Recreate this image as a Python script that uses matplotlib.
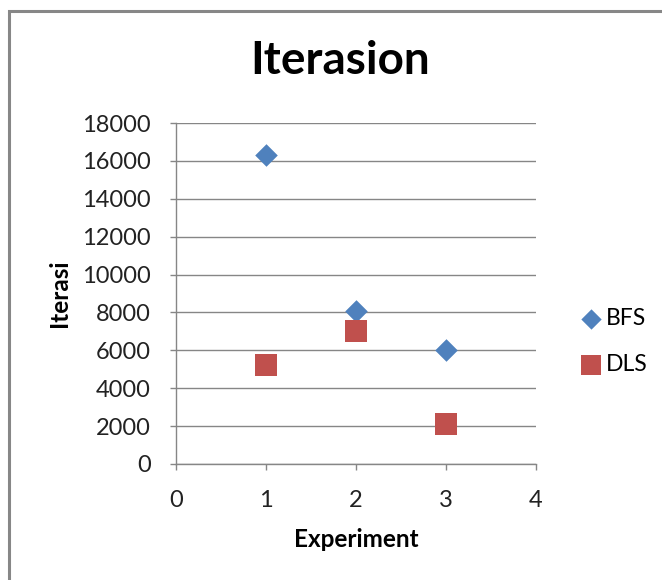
import matplotlib
matplotlib.use('Agg')
import matplotlib.pyplot as plt
from matplotlib.patches import Rectangle

plt.rcParams['font.family'] = ['Lato', 'DejaVu Sans']

## Data ##
experiment = [1, 2, 3]
bfs = [16300, 8100, 6000]
dls = [5200, 7000, 2100]

x_ticks = [0, 1, 2, 3, 4]
y_ticks = list(range(0, 18001, 2000))

blue = '#4F81BD'
red = '#C0504D'
grid_grey = '#868686'

fig = plt.figure(figsize=(6.62, 5.80), dpi=100)
ax = fig.add_axes([176 / 662, 1 - 464 / 580, 360 / 662, 341 / 580])

# outer chart border (runs off the right and bottom edges)
fig.patches.append(Rectangle((8.5 / 662, -0.05), 1.1, 1 - 10.5 / 580 + 0.05,
                             transform=fig.transFigure, fill=False,
                             edgecolor='#878787', linewidth=2.2, zorder=0))

ax.scatter(experiment, bfs, marker='D', s=11.5 ** 2, color=blue,
           linewidths=0, label='BFS', zorder=3)
ax.scatter(experiment, dls, marker='s', s=16 ** 2, color=red,
           linewidths=0, label='DLS', zorder=3)

ax.set_xlim(0, 4)
ax.set_ylim(0, 18000)
ax.set_xticks(x_ticks)
ax.set_yticks(y_ticks)
ax.tick_params(labelsize=17, colors=grid_grey, labelcolor='#222222',
               length=4, width=1)
ax.tick_params(axis='x', pad=15)
ax.tick_params(axis='y', pad=14)

ax.grid(axis='y', color=grid_grey, linewidth=1)
ax.set_axisbelow(True)
for side in ['top', 'right']:
    ax.spines[side].set_visible(False)
for side in ['left', 'bottom']:
    ax.spines[side].set_color(grid_grey)
    ax.spines[side].set_linewidth(1)

ax.set_xlabel('Experiment', fontsize=17.5, fontweight='bold', labelpad=12)
ax.set_ylabel('Iterasi', fontsize=17.5, fontweight='bold', labelpad=8)

fig.text(340 / 662, 1 - 61 / 580, 'Iterasion', fontsize=33,
         fontweight='bold', ha='center', va='center')

ax.legend(loc='center left', bbox_to_anchor=(1.125, 0.36),
          bbox_transform=ax.transAxes, frameon=False,
          fontsize=16.5, labelspacing=1.1, handletextpad=0.25,
          handlelength=0.85, borderaxespad=0, borderpad=0,
          scatterpoints=1, markerscale=0.9)

fig.savefig('out.png', dpi=100)
